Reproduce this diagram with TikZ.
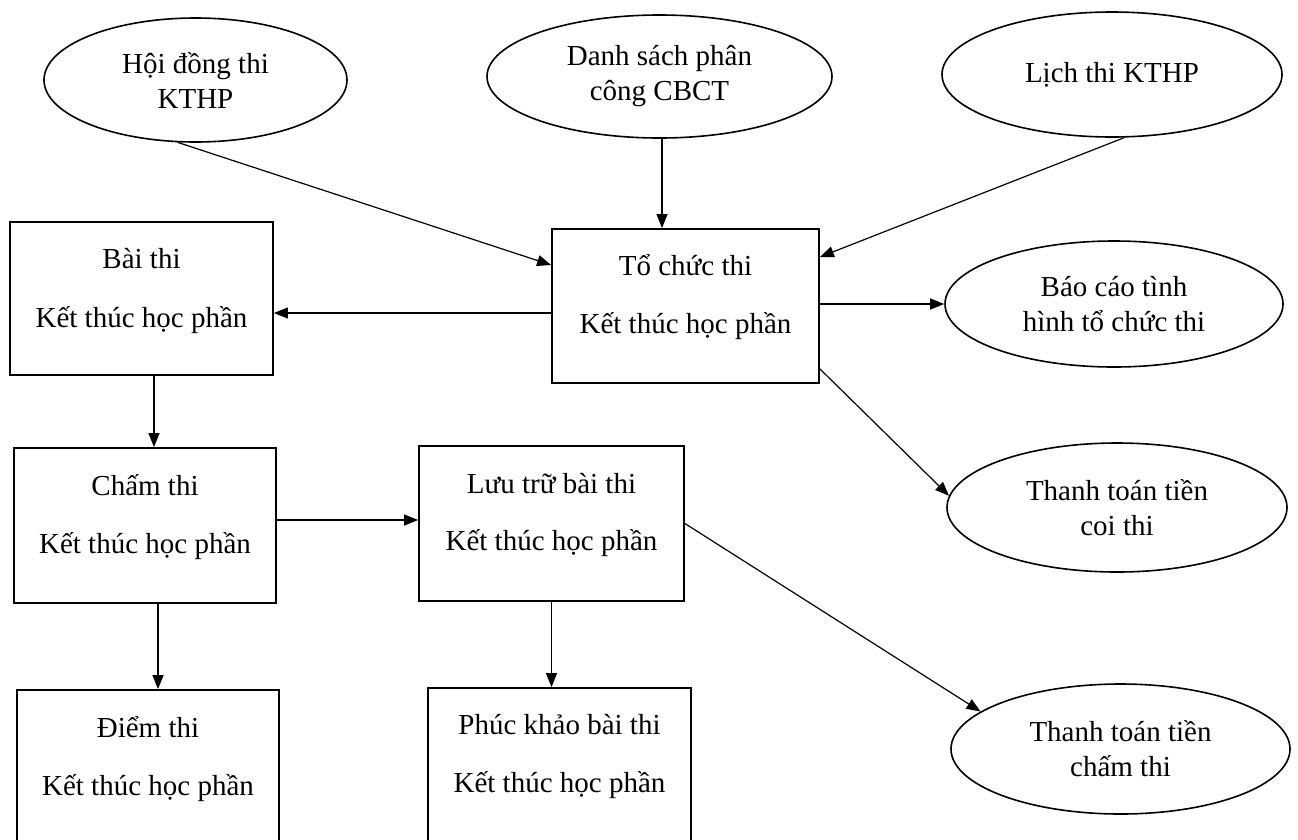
\documentclass[tikz,border=0pt]{standalone}
\usepackage{fontspec}
\setmainfont{Liberation Serif}
\usetikzlibrary{shapes.geometric,arrows.meta}
\begin{document}
\begin{tikzpicture}[x=1pt,y=-1pt,
  every node/.style={font=\fontsize{29}{35}\selectfont},
  proc/.style={draw, line width=1.8pt, rectangle, inner sep=0pt},
  blob/.style={draw, line width=1.6pt, ellipse, inner sep=0pt, align=center},
  ln/.style={anchor=base, inner sep=0pt},
  arr/.style={line width=1.2pt, -{Triangle[length=14pt,width=11pt]}}]
\useasboundingbox (0,0) rectangle (1298,839);
\fill[white] (0,0) rectangle (1298,839);
\clip (0,0) rectangle (1298,839);

% ellipses
\node[blob, minimum width=303pt, minimum height=124pt] (hoi) at (195.5,80) {Hội đồng thi\\KTHP};
\node[blob, minimum width=345pt, minimum height=123pt] (dsach) at (659.5,76.5) {Danh sách phân\\công CBCT};
\node[blob, minimum width=340pt, minimum height=125pt] (lich) at (1112,74.5) {Lịch thi KTHP};
\node[blob, minimum width=338pt, minimum height=126pt] (bao) at (1114,304) {Báo cáo tình\\hình tổ chức thi};
\node[blob, minimum width=340pt, minimum height=129pt] (coi) at (1117,507.5) {Thanh toán tiền\\coi thi};
\node[blob, minimum width=339pt, minimum height=130pt] (tcham) at (1120.5,749) {Thanh toán tiền\\chấm thi};

% boxes
\node[proc, minimum width=263pt, minimum height=153pt] (bai) at (141.5,298.5) {};
\node[proc, minimum width=267pt, minimum height=154pt] (toch) at (685.5,306) {};
\node[proc, minimum width=262pt, minimum height=155pt] (cham) at (145,525.5) {};
\node[proc, minimum width=265pt, minimum height=155pt] (luu) at (551.5,523.5) {};
\node[proc, minimum width=262pt, minimum height=155pt] (diem) at (148,767.5) {};
\node[proc, minimum width=263pt, minimum height=155pt] (phuc) at (559.5,765.5) {};

% box texts
\node[ln] (bai1) at (141.5,268) {Bài thi};
\node[ln] (bai2) at (141.5,327) {Kết thúc học phần};
\node[ln] (toch1) at (685.5,275) {Tổ chức thi};
\node[ln] (toch2) at (685.5,333) {Kết thúc học phần};
\node[ln] (cham1) at (145,495) {Chấm thi};
\node[ln] (cham2) at (145,553) {Kết thúc học phần};
\node[ln] (luu1) at (551.5,493) {Lưu trữ bài thi};
\node[ln] (luu2) at (551.5,550) {Kết thúc học phần};
\node[ln] (diem1) at (148,737) {Điểm thi};
\node[ln] (diem2) at (148,795) {Kết thúc học phần};
\node[ln] (phuc1) at (559.5,734) {Phúc khảo bài thi};
\node[ln] (phuc2) at (559.5,792) {Kết thúc học phần};

% connectors
\draw[arr] (hoi.254) -- ([yshift=41pt]toch.west);
\draw[arr] ([xshift=2.5pt]dsach.south) -- ([xshift=2.5pt]dsach.south |- toch.north);
\draw[arr] (lich.281.7) -- ([yshift=49pt]toch.east);
\draw[arr] ([yshift=-7pt]toch.west) -- ([yshift=-7pt]toch.west -| bai.east);
\draw[arr] (bao.west -| toch.east) -- (bao.west);
\draw[arr] ([yshift=15pt]toch.south east) -- (coi.176.8);
\draw[arr] ([xshift=12.5pt]bai.south) -- ([xshift=12.5pt]bai.south |- cham.north);
\draw[arr] ([yshift=5.5pt]cham.east) -- ([yshift=5.5pt]cham.east -| luu.west);
\draw[arr] ([xshift=13pt]cham.south) -- ([xshift=13pt]cham.south |- diem.north);
\draw[arr] (luu.south) -- (luu.south |- phuc.north);
\draw[arr] (luu.east) -- (tcham.165.9);
\end{tikzpicture}
\end{document}
